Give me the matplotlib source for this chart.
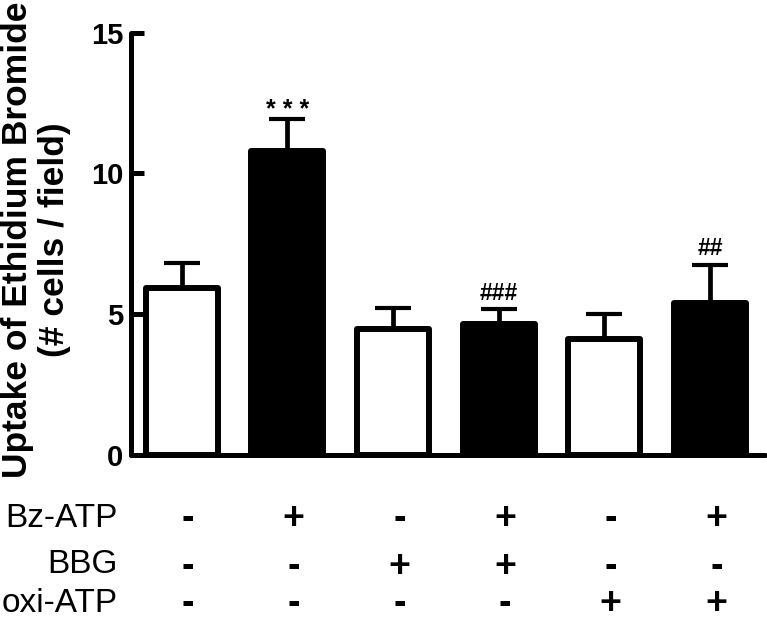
import matplotlib
matplotlib.use("Agg")
import matplotlib.pyplot as plt
import matplotlib.transforms as mtransforms
import numpy as np

plt.rcParams['font.family'] = ['Liberation Sans', 'DejaVu Sans']

# Data
means = [5.93, 10.79, 4.47, 4.66, 4.12, 5.40]
sem = [0.90, 1.13, 0.76, 0.51, 0.88, 1.34]
fills = ['white', 'black', 'white', 'black', 'white', 'black']
marks = ['', '***', '', '###', '', '##']
row_names = ['Bz-ATP', 'BBG', 'oxi-ATP']
bz_atp = ['-', '+', '-', '+', '-', '+']
bbg = ['-', '-', '+', '+', '-', '-']
oxi_atp = ['-', '-', '-', '-', '+', '+']
yticks = [0, 5, 10, 15]

W, H = 767, 622
fig = plt.figure(figsize=(W / 100, H / 100), dpi=100)
ax = fig.add_axes([131 / W, 1 - 455 / H, (765 - 131) / W, (455 - 32.5) / H])

x = np.arange(len(means))

# Error bars (upper only)
ax.errorbar(x, means, yerr=[np.zeros(len(sem)), sem], fmt='none', ecolor='black',
            elinewidth=3.4, capsize=13, capthick=3.0, zorder=1)

bars = ax.bar(x, means, width=0.68, color=fills, edgecolor='black', linewidth=4.3, zorder=2)
for b in bars:
    b.set_joinstyle('round')

# Significance marks
for xi, m, s, lab in zip(x, means, sem, marks):
    if not lab:
        continue
    if lab.startswith('*'):
        ax.annotate(' '.join(lab), (xi, m + s), xytext=(0, 1.5), textcoords='offset points',
                    ha='center', va='baseline', fontsize=18, fontweight='bold')
    else:
        ax.annotate(lab, (xi, m + s), xytext=(0, 7), textcoords='offset points',
                    ha='center', va='baseline', fontsize=16.5, fontweight='bold')

ax.set_xlim(-0.48, 5.52)
ax.set_ylim(0, 15)
ax.set_yticks(yticks)
ax.set_xticks([])
for side in ['top', 'right']:
    ax.spines[side].set_visible(False)
for side in ['left', 'bottom']:
    ax.spines[side].set_linewidth(3.6)
    ax.spines[side].set_capstyle('round')
ax.tick_params(axis='y', direction='in', length=9, width=3.6, pad=5.5,
               labelsize=21)
for t in ax.get_yticklabels():
    t.set_fontweight('bold')

# Y label (two lines)
fig.text(36 / W, 1 - 240 / H, 'Uptake of Ethidium Bromide\n(# cells / field)',
         rotation=90, ha='center', va='center', fontsize=25.5, fontweight='bold',
         multialignment='center', linespacing=1.15)

# Treatment table under the axis
trans = mtransforms.blended_transform_factory(ax.transData, fig.transFigure)
label_base = [527, 573, 612]
sign_base = [529, 577, 614]
for r, (name, signs) in enumerate(zip(row_names, [bz_atp, bbg, oxi_atp])):
    fig.text(118 / W, 1 - label_base[r] / H, name, ha='right', va='baseline', fontsize=24)
    for xi, sg in zip(x, signs):
        ax.text(xi + 0.06, 1 - sign_base[r] / H, sg, transform=trans, ha='center',
                va='baseline', fontsize=27, fontweight='bold', clip_on=False)

fig.savefig('out.png', dpi=100)
